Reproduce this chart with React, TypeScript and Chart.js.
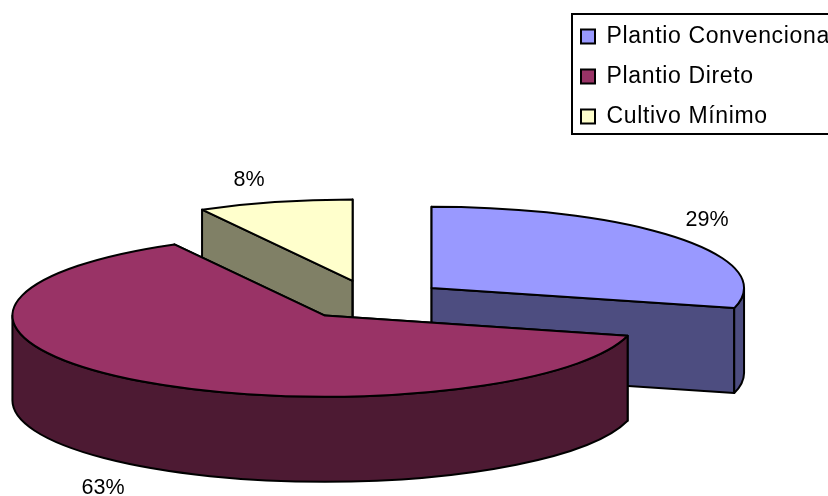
import React, { useEffect, useRef } from "react";
import { Chart, registerables } from "chart.js";

Chart.register(...registerables);

const categories = ["Plantio Convencional", "Plantio Direto", "Cultivo Mínimo"];
const shares = [29, 63, 8];
const faceColors = ["#9999FF", "#993366", "#FFFFCC"];
const wallColors = ["#4D4D80", "#4D1A33", "#808066"];

const FONT = "'Liberation Sans', Arial, sans-serif";
const SQUASH = 0.26;
const RADIUS = 312.5;
const DEPTH = 85;
const EXPLODE = 76;
const PAINT_ORDER = [2, 0, 1];
const LABEL_SPOTS = [
  [707, 220],
  [103, 488],
  [249, 180],
];

const pie3d = {
  id: "pie3d",
  beforeDraw(chart: any) {
    const { ctx } = chart;
    ctx.save();
    ctx.fillStyle = "#fff";
    ctx.fillRect(0, 0, chart.width, chart.height);
    ctx.strokeStyle = "#000";
    ctx.lineWidth = 2;
    ctx.strokeRect(572, 14, 300, 120);
    ctx.restore();
    ctx.letterSpacing = "0.65px";
  },
  afterLayout(chart: any) {
    const l = chart.legend;
    l.left = 564;
    l.right = 900;
    l.top = 8;
    l.bottom = 200;
    l.width = 336;
    l.height = 192;
  },
  beforeDatasetDraw(chart: any, args: any) {
    const { ctx } = chart;
    ctx.letterSpacing = "0px";
    const arcs = args.meta.data;
    for (const i of PAINT_ORDER) {
      const el = arcs[i];
      const a0 = el.startAngle;
      const a1 = el.endAngle;
      const mid = (a0 + a1) / 2;
      const cx = el.x + Math.cos(mid) * EXPLODE;
      const cy = el.y + Math.sin(mid) * EXPLODE * SQUASH;
      const ry = RADIUS * SQUASH;
      const px = (a: number) => cx + RADIUS * Math.cos(a);
      const py = (a: number) => cy + ry * Math.sin(a);

      ctx.save();
      ctx.fillStyle = wallColors[i];
      ctx.strokeStyle = "#000";
      ctx.lineWidth = 2;
      ctx.lineJoin = "round";

      for (const a of [a0, a1]) {
        ctx.beginPath();
        ctx.moveTo(cx, cy);
        ctx.lineTo(px(a), py(a));
        ctx.lineTo(px(a), py(a) + DEPTH);
        ctx.lineTo(cx, cy + DEPTH);
        ctx.closePath();
        ctx.fill();
        ctx.stroke();
      }

      const norm = (a: number) => ((a % (2 * Math.PI)) + 2 * Math.PI) % (2 * Math.PI);
      const s = norm(a0);
      const sweep = a1 - a0;
      const spans: number[][] = [];
      for (const base of [0, 2 * Math.PI]) {
        const from = Math.max(s, base);
        const to = Math.min(s + sweep, base + Math.PI);
        if (to > from) spans.push([from, to]);
      }
      for (const [from, to] of spans) {
        ctx.beginPath();
        ctx.ellipse(cx, cy, RADIUS, ry, 0, from, to);
        ctx.ellipse(cx, cy + DEPTH, RADIUS, ry, 0, to, from, true);
        ctx.closePath();
        ctx.fill();
        ctx.stroke();
      }

      ctx.save();
      ctx.translate(cx - el.x, cy);
      ctx.scale(1, SQUASH);
      ctx.translate(0, -el.y);
      el.draw(ctx);
      ctx.restore();

      ctx.beginPath();
      ctx.moveTo(cx, cy);
      ctx.ellipse(cx, cy, RADIUS, ry, 0, a0, a1);
      ctx.closePath();
      ctx.stroke();
      ctx.restore();
    }
    return false;
  },
  afterDatasetsDraw(chart: any) {
    const { ctx } = chart;
    ctx.save();
    ctx.fillStyle = "#000";
    ctx.font = `21.5px ${FONT}`;
    ctx.textAlign = "center";
    ctx.textBaseline = "middle";
    shares.forEach((v, i) => {
      ctx.fillText(`${v}%`, LABEL_SPOTS[i][0], LABEL_SPOTS[i][1]);
    });
    ctx.restore();
  },
};

export default function App() {
  const ref = useRef<HTMLCanvasElement | null>(null);
  useEffect(() => {
    const chart = new Chart(ref.current as HTMLCanvasElement, {
      type: "pie",
      data: {
        labels: categories,
        datasets: [
          {
            data: shares,
            backgroundColor: faceColors,
            borderWidth: 0,
            radius: RADIUS,
          } as any,
        ],
      },
      options: {
        responsive: false,
        animation: false,
        layout: { padding: { right: 85, top: 104 } },
        plugins: {
          tooltip: { enabled: false },
          legend: {
            position: "chartArea" as any,
            align: "start",
            labels: {
              boxWidth: 14,
              boxHeight: 14,
              padding: 17,
              color: "#000",
              font: { family: FONT, size: 23 },
              generateLabels: (c: any) =>
                (Chart as any).overrides.pie.plugins.legend.labels
                  .generateLabels(c)
                  .map((it: any) => ({ ...it, strokeStyle: "#000", lineWidth: 2 })),
            },
          },
        },
      },
      plugins: [pie3d],
    } as any);
    return () => chart.destroy();
  }, []);
  return (
    <canvas
      ref={ref}
      width={828}
      height={496}
      style={{ position: "absolute", left: 0, top: 0 }}
    />
  );
}
